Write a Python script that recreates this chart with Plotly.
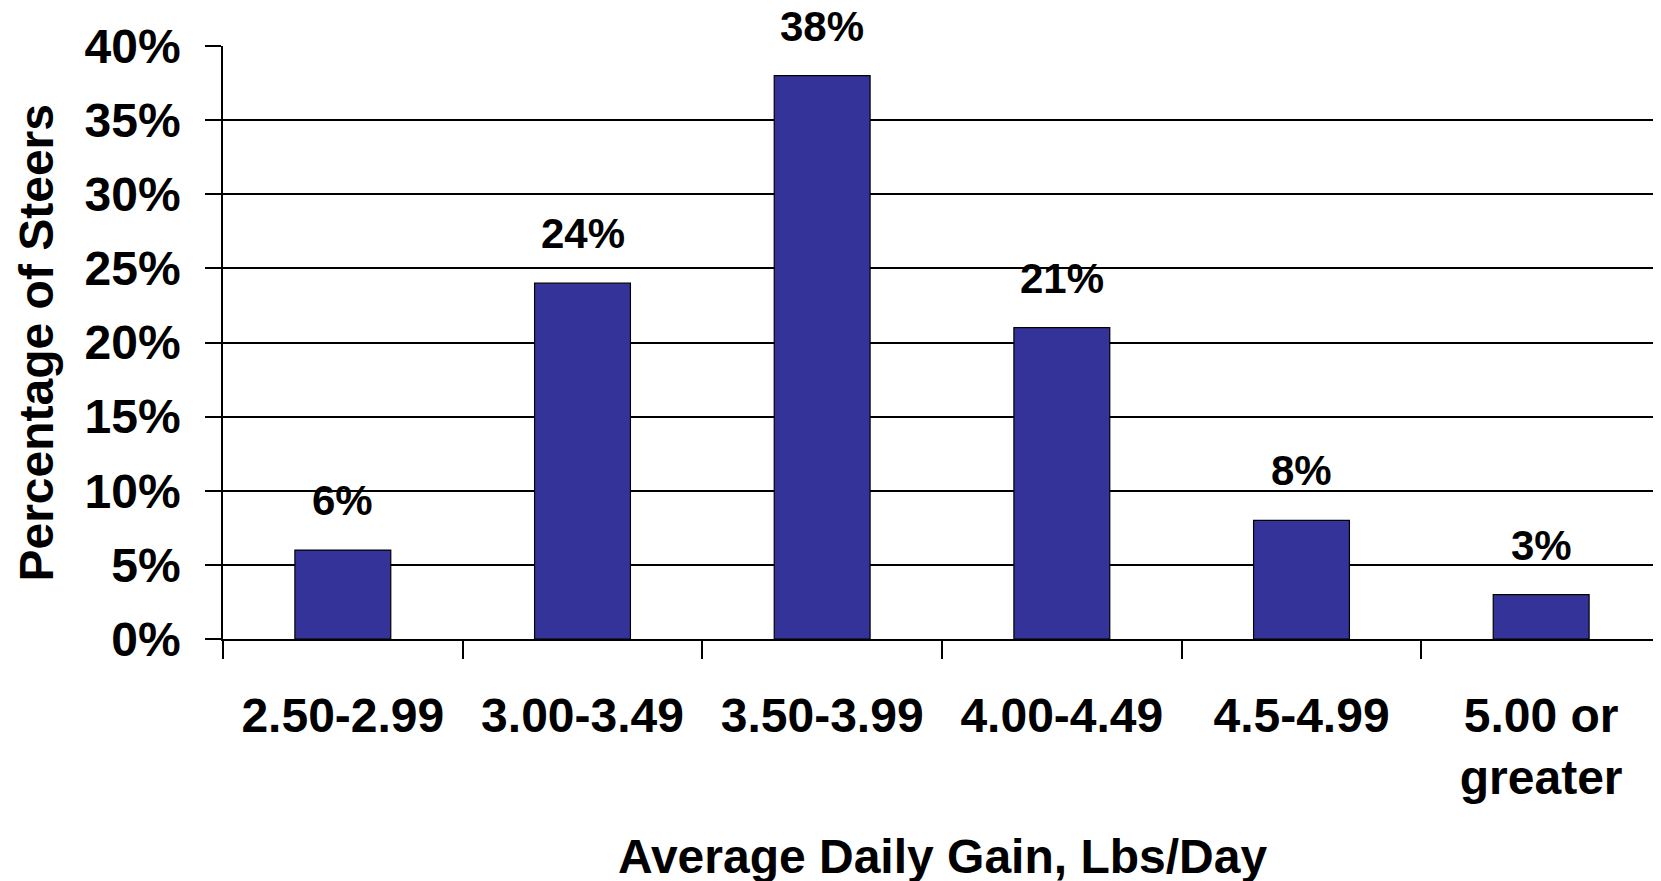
import plotly.graph_objects as go

categories = ["2.50-2.99", "3.00-3.49", "3.50-3.99", "4.00-4.49", "4.5-4.99", "5.00 or<br>greater"]
percent_values = [6, 24, 38, 21, 8, 3]
y_tick_values = [0, 5, 10, 15, 20, 25, 30, 35, 40]
y_tick_labels = [f"{v}%" for v in y_tick_values]
x_title = "Average Daily Gain, Lbs/Day"
y_title = "Percentage of Steers"

FONT = "Arial, Liberation Sans, sans-serif"
BAR_COLOR = "#333399"

fig = go.Figure()
fig.add_trace(go.Bar(
    x=categories,
    y=percent_values,
    marker=dict(color=BAR_COLOR, line=dict(color="black", width=1.2)),
    width=0.4,
    hoverinfo="skip",
))

annotations = []
for c, v in zip(categories, percent_values):
    annotations.append(dict(
        x=c, y=v, xref="x", yref="y", text=f"{v}%", showarrow=False,
        yanchor="bottom", yshift=24,
        font=dict(family=FONT, size=42, color="black", weight="bold"),
    ))
annotations.append(dict(
    x=0.5, y=-0.366, xref="paper", yref="paper", text=x_title, showarrow=False,
    xanchor="center", yanchor="middle",
    font=dict(family=FONT, size=48, color="black", weight="bold"),
))
annotations.append(dict(
    x=-0.130, y=0.5, xref="paper", yref="paper", text=y_title, showarrow=False,
    xanchor="center", yanchor="middle", textangle=-90,
    font=dict(family=FONT, size=48, color="black", weight="bold"),
))

fig.update_layout(
    width=1653, height=873, autosize=False,
    margin=dict(l=215, r=0, t=38, b=242),
    plot_bgcolor="white", paper_bgcolor="white",
    showlegend=False,
    annotations=annotations,
)
fig.update_xaxes(
    type="category",
    tickson="boundaries", ticks="outside", ticklen=18, tickwidth=1.5, tickcolor="black",
    showline=True, linecolor="black", linewidth=2,
    showgrid=False,
    ticklabelstandoff=33,
    tickfont=dict(family=FONT, size=48, color="black", weight="bold"),
    range=[-0.5, 5.5],
)
fig.update_yaxes(
    range=[0, 40], tickvals=y_tick_values, ticktext=y_tick_labels,
    ticks="outside", ticklen=16, tickwidth=1.5, tickcolor="black",
    showline=True, linecolor="black", linewidth=1.5,
    showgrid=True, gridcolor="black", gridwidth=1.5,
    zeroline=False,
    ticklabelstandoff=15,
    tickfont=dict(family=FONT, size=48, color="black", weight="bold"),
)

fig.write_html("out.html")
